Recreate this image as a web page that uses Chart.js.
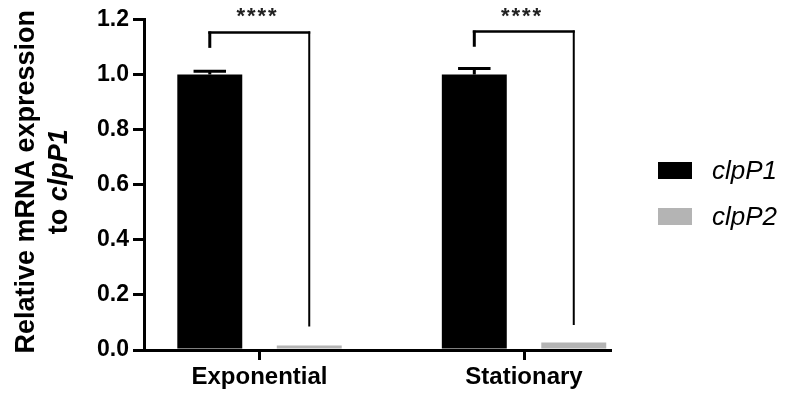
<!DOCTYPE html>
<html>
<head>
<meta charset="utf-8">
<script src="https://cdn.jsdelivr.net/npm/chart.js@4.4.0/dist/chart.umd.min.js"></script>
<style>
html,body{margin:0;padding:0;background:#fff;}
#wrap{width:787px;height:399px;position:relative;}
</style>
</head>
<body>
<div id="wrap"><canvas id="c"></canvas></div>
<script>
// ---- data ----
const categories = ['Exponential', 'Stationary'];
const seriesNames = ['clpP1', 'clpP2'];
const clpP1Values = [1.0, 1.0];
const clpP2Values = [0.016, 0.027];
const clpP1Errors = [0.012, 0.022];
const clpP2Errors = [0, 0];
const yTicks = [0, 0.2, 0.4, 0.6, 0.8, 1.0, 1.2];
const sigLabels = ['****', '****'];
const sigTop = [1.153, 1.156];
const sigLeftEnd = [1.097, 1.101];
const sigRightEnd = [0.085, 0.091];
const yTitleLine1 = 'Relative mRNA expression';
const yTitleLine2 = ['to ', 'clpP1'];

const FF = '"Liberation Sans", Arial, Helvetica, sans-serif';
const errorsBySeries = [clpP1Errors, clpP2Errors];
const valuesBySeries = [clpP1Values, clpP2Values];

const errorBarPlugin = {
  id: 'errorBars',
  afterDatasetsDraw(chart) {
    const ctx = chart.ctx;
    const y = chart.scales.y;
    ctx.save();
    ctx.strokeStyle = '#000';
    ctx.lineWidth = 3;
    chart.data.datasets.forEach((ds, di) => {
      const meta = chart.getDatasetMeta(di);
      meta.data.forEach((bar, i) => {
        const err = errorsBySeries[di][i];
        if (!err) return;
        const top = y.getPixelForValue(valuesBySeries[di][i] + err);
        const capHalf = bar.width * 0.25;
        ctx.beginPath();
        ctx.moveTo(bar.x, bar.y);
        ctx.lineTo(bar.x, top);
        ctx.moveTo(bar.x - capHalf, top);
        ctx.lineTo(bar.x + capHalf, top);
        ctx.stroke();
      });
    });
    ctx.restore();
  }
};

const bracketPlugin = {
  id: 'sigBrackets',
  afterDraw(chart) {
    const ctx = chart.ctx;
    const y = chart.scales.y;
    const m0 = chart.getDatasetMeta(0), m1 = chart.getDatasetMeta(1);
    ctx.save();
    ctx.strokeStyle = '#000';
    ctx.lineCap = 'butt';
    categories.forEach((c, i) => {
      const xl = m0.data[i].x, xr = m1.data[i].x;
      const yt = y.getPixelForValue(sigTop[i]);
      const yl = y.getPixelForValue(sigLeftEnd[i]);
      const yr = y.getPixelForValue(sigRightEnd[i]);
      ctx.lineWidth = 3;
      ctx.beginPath(); ctx.moveTo(xl, yl); ctx.lineTo(xl, yt - 1); ctx.stroke();
      ctx.lineWidth = 2.5;
      ctx.beginPath(); ctx.moveTo(xl - 1.5, yt); ctx.lineTo(xr + 1, yt); ctx.stroke();
      ctx.lineWidth = 2;
      ctx.beginPath(); ctx.moveTo(xr, yt - 1); ctx.lineTo(xr, yr); ctx.stroke();
      ctx.fillStyle = '#222';
      ctx.font = 'bold 22px ' + FF;
      ctx.textAlign = 'center';
      ctx.textBaseline = 'alphabetic';
      try { ctx.letterSpacing = '2px'; } catch (e) {}
      ctx.fillText(sigLabels[i], (xl + xr) / 2 - 2, yt - 9);
      try { ctx.letterSpacing = '0px'; } catch (e) {}
    });
    ctx.restore();
  }
};

const yTitlePlugin = {
  id: 'yTitle',
  afterDraw(chart) {
    const ctx = chart.ctx;
    const ca = chart.chartArea;
    const cy = (ca.top + ca.bottom) / 2 - 3;
    ctx.save();
    ctx.fillStyle = '#000';
    ctx.textBaseline = 'alphabetic';
    ctx.save();
    ctx.translate(34, cy);
    ctx.rotate(-Math.PI / 2);
    ctx.font = 'bold 27px ' + FF;
    ctx.textAlign = 'center';
    ctx.fillText(yTitleLine1, 0, 0);
    ctx.restore();
    ctx.save();
    ctx.translate(67, cy);
    ctx.rotate(-Math.PI / 2);
    const f1 = 'bold 27px ' + FF, f2 = 'italic bold 27px ' + FF;
    ctx.font = f1; const w1 = ctx.measureText(yTitleLine2[0]).width;
    ctx.font = f2; const w2 = ctx.measureText(yTitleLine2[1]).width;
    const x0 = -(w1 + w2) / 2;
    ctx.textAlign = 'left';
    ctx.font = f1; ctx.fillText(yTitleLine2[0], x0, 0);
    ctx.font = f2; ctx.fillText(yTitleLine2[1], x0 + w1, 0);
    ctx.restore();
    ctx.restore();
  }
};

// legend drawn from the chart's own datasets (labels and colours)
const sideLegendPlugin = {
  id: 'sideLegend',
  afterDraw(chart) {
    const ctx = chart.ctx;
    const ca = chart.chartArea;
    const yc = (ca.top + ca.bottom) / 2;
    const boxX = ca.right + 48, boxW = 34, boxH = 17, step = 46;
    ctx.save();
    ctx.font = 'italic 26px ' + FF;
    ctx.textAlign = 'left';
    ctx.textBaseline = 'middle';
    chart.data.datasets.forEach((ds, i) => {
      const cyItem = yc - 14.25 + i * step;
      ctx.fillStyle = ds.backgroundColor;
      ctx.fillRect(boxX, cyItem - boxH / 2, boxW, boxH);
      ctx.fillStyle = '#000';
      ctx.fillText(ds.label, boxX + boxW + 20, cyItem + 1);
    });
    ctx.restore();
  }
};

const barOpts = { categoryPercentage: 0.752, barPercentage: 0.653, borderWidth: 0 };

new Chart(document.getElementById('c'), {
  type: 'bar',
  data: {
    datasets: [
      Object.assign({ label: seriesNames[0], backgroundColor: '#000000',
        data: categories.map((c, i) => ({ x: i, y: clpP1Values[i] })) }, barOpts),
      Object.assign({ label: seriesNames[1], backgroundColor: '#b4b4b4',
        data: categories.map((c, i) => ({ x: i, y: clpP2Values[i] })) }, barOpts)
    ]
  },
  options: {
    responsive: true,
    maintainAspectRatio: false,
    animation: false,
    devicePixelRatio: 1,
    layout: { padding: { top: 19.5, right: 177, bottom: 0, left: 0 } },
    plugins: {
      tooltip: { enabled: false },
      legend: { display: false }
    },
    scales: {
      x: {
        type: 'linear',
        min: -0.4367, max: 1.325,
        offset: false,
        afterBuildTicks: s => { s.ticks = categories.map((c, i) => ({ value: i })); },
        afterFit: s => { s.height = 49; },
        grid: { display: true, offset: false, drawOnChartArea: false, drawTicks: true, tickLength: 10, lineWidth: 3, color: '#000' },
        border: { display: true, width: 3, color: '#000', z: 1 },
        ticks: {
          autoSkip: false, maxRotation: 0, padding: 3, color: '#000',
          font: { family: FF, size: 24, weight: 'bold' },
          callback: (v, idx) => categories[idx]
        }
      },
      y: {
        type: 'linear',
        min: 0, max: 1.2,
        afterBuildTicks: s => { s.ticks = yTicks.map(v => ({ value: v })); },
        afterFit: s => { s.width = 144; },
        grid: { display: true, drawOnChartArea: false, drawTicks: true, tickLength: 11, lineWidth: 3, color: '#000' },
        border: { display: true, width: 3, color: '#000', z: 1 },
        ticks: {
          padding: 4, color: '#000',
          font: { family: FF, size: 23, weight: 'bold' },
          callback: v => Number(v).toFixed(1)
        }
      }
    }
  },
  plugins: [errorBarPlugin, bracketPlugin, yTitlePlugin, sideLegendPlugin]
});
</script>
</body>
</html>
